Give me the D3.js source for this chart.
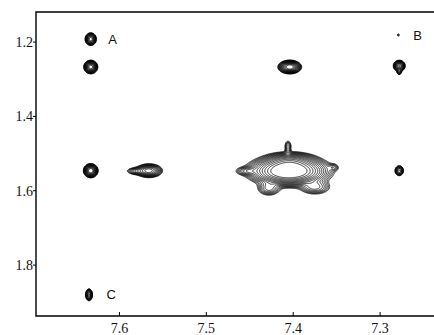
<!DOCTYPE html>
<html>
<head>
<meta charset="utf-8">
<script src="https://cdn.jsdelivr.net/npm/d3@7"></script>
<style>
  body { margin: 0; background: #fff; }
  .tick-label { font-family: "Liberation Serif", "Times New Roman", serif; font-size: 14px; fill: #111; }
  .peak-label { font-family: "Liberation Sans", Arial, sans-serif; font-size: 13px; fill: #111; }
</style>
</head>
<body>
<svg width="434" height="335"></svg>
<script>
// axis ticks (ppm)
var xTicks = [7.6, 7.5, 7.4, 7.3];
var yTicks = [1.2, 1.4, 1.6, 1.8];

// cross peaks: centre (ppm), width (ppm), intensity
var peakX  = [7.633, 7.633, 7.633, 7.635, 7.566, 7.580, 7.404, 7.278, 7.278, 7.278, 7.279,
              7.405, 7.404, 7.406, 7.406, 7.453, 7.354, 7.428, 7.375];
var peakY  = [1.192, 1.267, 1.546, 1.880, 1.546, 1.547, 1.267, 1.264, 1.280, 1.546, 1.181,
              1.547, 1.520, 1.480, 1.497, 1.547, 1.537, 1.593, 1.590];
var peakSX = [0.0026, 0.0030, 0.0031, 0.0017, 0.0065, 0.0060, 0.0050, 0.0027, 0.0014, 0.0022, 0.0011,
              0.0184, 0.0138, 0.0023, 0.0018, 0.0070, 0.0035, 0.0069, 0.0092];
var peakSY = [0.0068, 0.0068, 0.0070, 0.0068, 0.0078, 0.0050, 0.0068, 0.0060, 0.0040, 0.0060, 0.0030,
              0.0160, 0.0108, 0.0090, 0.0060, 0.0060, 0.0054, 0.0105, 0.0105];
var peakH  = [1.2, 2.0, 2.2, 0.8, 0.9, 0.25, 2.2, 1.3, 0.25, 0.6, 0.08,
              3.0, 0.6, 0.15, 0.12, 0.2, 0.12, 0.25, 0.25];

var labelText = ["A", "B", "C"];
var labelX = [7.613, 7.262, 7.615];
var labelY = [1.192, 1.181, 1.880];

var svg = d3.select("svg");
var mLeft = 36, mTop = 12, mRight = 434, mBottom = 316;

// chemical shift axes run backwards
var x = d3.scaleLinear().domain([7.696, 7.238]).range([mLeft, mRight]);
var y = d3.scaleLinear().domain([1.119, 1.937]).range([mTop, mBottom]);

// sample the spectrum on a grid, two cells per pixel
var k = 2;
var nx = (mRight - mLeft) * k, ny = (mBottom - mTop) * k;
var values = new Float64Array(nx * ny);
for (var j = 0; j < ny; j++) {
  var py = y.invert(mTop + (j + 0.5) / k);
  for (var i = 0; i < nx; i++) {
    var px = x.invert(mLeft + (i + 0.5) / k);
    var v = 0;
    for (var p = 0; p < peakX.length; p++) {
      var dx = (px - peakX[p]) / peakSX[p];
      var dy = (py - peakY[p]) / peakSY[p];
      var e = dx * dx + dy * dy;
      if (e < 40) v += peakH[p] * Math.exp(-0.5 * e);
    }
    values[j * nx + i] = v;
  }
}

var levels = d3.range(15).map(function(n) { return 0.05 * Math.pow(1.28, n); });
var contours = d3.contours().size([nx, ny]).thresholds(levels)(values);

var toPixels = d3.geoTransform({
  point: function(gx, gy) { this.stream.point(mLeft + gx / k, mTop + gy / k); }
});

svg.append("g")
    .attr("class", "contours")
  .selectAll("path")
  .data(contours)
  .enter().append("path")
    .attr("d", d3.geoPath(toPixels))
    .attr("fill", "none")
    .attr("stroke", "#000")
    .attr("stroke-width", 0.8);

// frame
svg.append("path")
    .attr("d", "M" + mRight + "," + mTop + "H" + mLeft + "V" + mBottom + "H" + mRight)
    .attr("fill", "none")
    .attr("stroke", "#000")
    .attr("stroke-width", 1.4);

// x ticks point inward, labels below
var xg = svg.append("g");
xg.selectAll("line").data(xTicks).enter().append("line")
    .attr("x1", function(d) { return x(d); }).attr("x2", function(d) { return x(d); })
    .attr("y1", mBottom).attr("y2", mBottom - 4)
    .attr("stroke", "#000");
xg.selectAll("text").data(xTicks).enter().append("text")
    .attr("class", "tick-label")
    .attr("x", function(d) { return x(d); })
    .attr("y", mBottom + 17)
    .attr("text-anchor", "middle")
    .text(function(d) { return d.toFixed(1); });

// y ticks point outward
var yg = svg.append("g");
yg.selectAll("line").data(yTicks).enter().append("line")
    .attr("x1", mLeft - 3).attr("x2", mLeft)
    .attr("y1", function(d) { return y(d); }).attr("y2", function(d) { return y(d); })
    .attr("stroke", "#000");
yg.selectAll("text").data(yTicks).enter().append("text")
    .attr("class", "tick-label")
    .attr("x", mLeft - 3)
    .attr("y", function(d) { return y(d); })
    .attr("dy", "0.35em")
    .attr("text-anchor", "end")
    .text(function(d) { return d.toFixed(1); });

svg.append("g").selectAll("text").data(labelText).enter().append("text")
    .attr("class", "peak-label")
    .attr("x", function(d, i) { return x(labelX[i]); })
    .attr("y", function(d, i) { return y(labelY[i]); })
    .attr("dy", "0.35em")
    .text(function(d) { return d; });
</script>
</body>
</html>
